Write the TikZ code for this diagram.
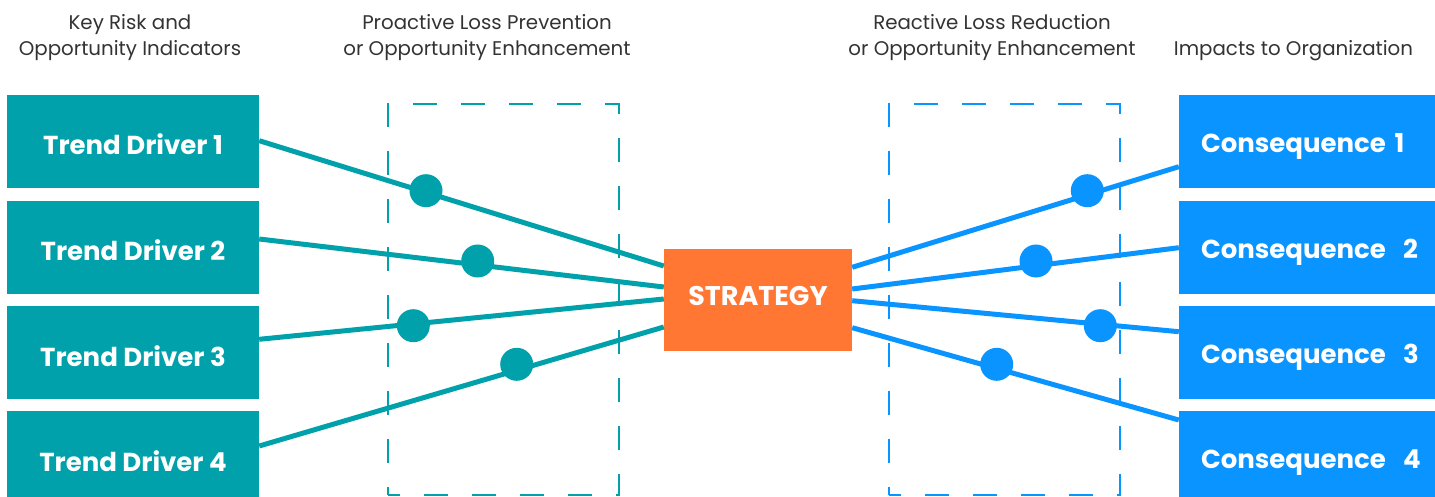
\documentclass[tikz,border=0pt]{standalone}
\usepackage{fontspec}
\setmainfont{Poppins}
\usetikzlibrary{calc}

\definecolor{riskteal}{HTML}{00A1AA}
\definecolor{impactblue}{HTML}{0A94FF}
\definecolor{stratorange}{HTML}{FF7733}
\definecolor{headgray}{HTML}{333333}

\begin{document}
\begin{tikzpicture}[x=1pt,y=-1pt,
  header/.style={text=headgray, align=center, inner sep=0pt,
    font=\fontsize{19.8}{26}\selectfont},
  driverbox/.style={fill=riskteal, minimum width=252pt, minimum height=93pt,
    inner sep=0pt, text=white, text height=27pt, text depth=0pt,
    font=\fontsize{26}{30}\selectfont\bfseries},
  conbox/.style={fill=impactblue, minimum height=93pt, inner xsep=22pt,
    inner ysep=0pt, text width=212pt, align=left, text=white,
    text height=22pt, text depth=0pt,
    font=\fontsize{26}{30}\selectfont\bfseries},
  stratbox/.style={fill=stratorange, minimum width=188pt, minimum height=102pt,
    inner sep=0pt, text=white, text height=11.5pt, text depth=0pt,
    font=\fontsize{27}{30}\selectfont\bfseries},
  zone/.style={line width=2pt, dash pattern=on 24pt off 24pt, dash phase=12pt,
    minimum width=231pt, minimum height=391pt, inner sep=0pt},
  tealline/.style={draw=riskteal, line width=5pt},
  blueline/.style={draw=impactblue, line width=5pt},
  tealdot/.style={circle, fill=riskteal, minimum size=33pt, inner sep=0pt},
  bluedot/.style={circle, fill=impactblue, minimum size=33pt, inner sep=0pt},
]
\useasboundingbox (0,0) rectangle (1435,497);
\clip (0,0) rectangle (1435,497);

% column headings
\node[header] (hkri) at (130,38) {Key Risk and\\Opportunity Indicators};
\node[header] (hpro) at (487,38) {Proactive Loss Prevention\\or Opportunity Enhancement};
\node[header] (hrea) at (992,38) {Reactive Loss Reduction\\or Opportunity Enhancement};
\node[header] (himp) at (1293.5,51) {Impacts to Organization};

% dashed control zones
\node[zone, draw=riskteal] (prevzone) at (503.5,299.5) {};
\node[zone, draw=impactblue] (redzone) at (1004.5,299.5) {};

% trend drivers
\node[driverbox] (td1) at (133,141.5) {Trend Driver 1};
\node[driverbox] (td2) at (133,247.5) {Trend Driver 2};
\node[driverbox] (td3) at (133,352.5) {Trend Driver 3};
\node[driverbox] (td4) at (133,457.5) {Trend Driver 4};

% consequences (left-aligned labels, kept on one line)
\node[conbox] (cq1) at (1307,141.5) {Consequence~1};
\node[conbox] (cq2) at (1307,247.5) {Consequence~~2};
\node[conbox] (cq3) at (1307,352.5) {Consequence~~3};
\node[conbox] (cq4) at (1307,457.5) {Consequence~~4};

% strategy
\node[stratbox] (strat) at (758,300) {STRATEGY};

% connectors: drivers into strategy
\draw[tealline] ($(td1.east)+(0,-0.8)$) -- ($(strat.west)+(0,-34)$);
\draw[tealline] ($(td2.east)+(0,-8.5)$) -- ($(strat.west)+(0,-13)$);
\draw[tealline] ($(td3.east)+(0,-13.2)$) -- ($(strat.west)+(0,-1)$);
\draw[tealline] ($(td4.east)+(0,-11.5)$) -- ($(strat.west)+(0,27)$);

% connectors: strategy out to consequences
\draw[blueline] ($(strat.east)+(0,-32.7)$) -- ($(cq1.west)+(0,25.2)$);
\draw[blueline] ($(strat.east)+(0,-11)$) -- ($(cq2.west)+(0,0.2)$);
\draw[blueline] ($(strat.east)+(0,0.7)$) -- ($(cq3.west)+(0,-20.8)$);
\draw[blueline] ($(strat.east)+(0,27.7)$) -- ($(cq4.west)+(0,-37.5)$);

% control points
\node[tealdot] (pv1) at (426,190.7) {};
\node[tealdot] (pv2) at (477.7,261) {};
\node[tealdot] (pv3) at (413.3,325.7) {};
\node[tealdot] (pv4) at (516.7,364.3) {};
\node[bluedot] (rd1) at (1087.3,190.7) {};
\node[bluedot] (rd2) at (1036,261) {};
\node[bluedot] (rd3) at (1100.3,325.7) {};
\node[bluedot] (rd4) at (996.7,364.3) {};
\end{tikzpicture}
\end{document}
